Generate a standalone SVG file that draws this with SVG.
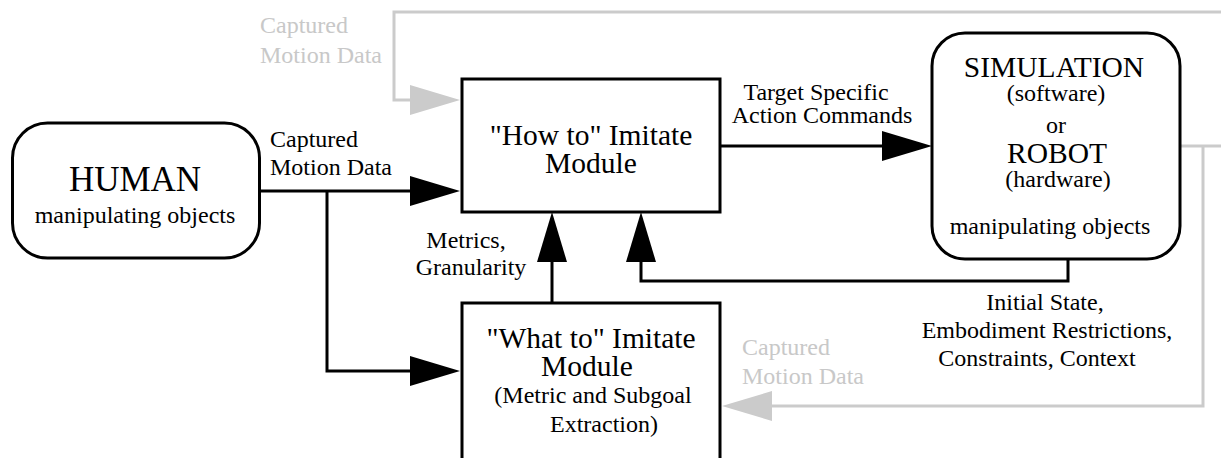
<svg xmlns="http://www.w3.org/2000/svg" width="1221" height="458" viewBox="0 0 1221 458">
<style>
  .box { fill: #ffffff; stroke: #000000; stroke-width: 3; }
  .ln { fill: none; stroke: #000000; stroke-width: 3; }
  .gl { fill: none; stroke: #cbcbcb; stroke-width: 3; }
  text { font-family: "Liberation Serif", "Times New Roman", serif; fill: #000000; }
  .big { font-size: 35px; text-anchor: middle; }
  .mid { font-size: 29.5px; text-anchor: middle; }
  .sm { font-size: 24px; text-anchor: middle; }
  .lbl { font-size: 24px; }
  .gray { fill: #c8c8c8; }
</style>
<defs>
  <marker id="ah" markerUnits="userSpaceOnUse" markerWidth="50" markerHeight="30" refX="0" refY="15" orient="auto" viewBox="0 0 50 30">
    <path d="M0,0 L50,15 L0,30 Z" fill="#000000"/>
  </marker>
  <marker id="ahg" markerUnits="userSpaceOnUse" markerWidth="50" markerHeight="30" refX="0" refY="15" orient="auto" viewBox="0 0 50 30">
    <path d="M0,0 L50,15 L0,30 Z" fill="#cbcbcb"/>
  </marker>
</defs>

<g id="connectors">
  <path class="gl" d="M1221,12 H394 V100 H410" marker-end="url(#ahg)"/>
  <path class="gl" d="M1180,146 H1221 M1203,146 V406 H772" marker-end="url(#ahg)"/>
  <path class="ln" d="M260,191 H410" marker-end="url(#ah)"/>
  <path class="ln" d="M327,191 V371 H410" marker-end="url(#ah)"/>
  <path class="ln" d="M720,146 H882" marker-end="url(#ah)"/>
  <path class="ln" d="M552,303 V262" marker-end="url(#ah)"/>
  <path class="ln" d="M1068,259 V281 H641 V262" marker-end="url(#ah)"/>
</g>

<g id="labels">
  <text class="lbl gray" x="260" y="33">Captured</text>
  <text class="lbl gray" x="260" y="63">Motion Data</text>
  <text class="lbl" x="270" y="147">Captured</text>
  <text class="lbl" x="270" y="175">Motion Data</text>
  <text class="sm" x="816" y="100">Target Specific</text>
  <text class="sm" x="822" y="123">Action Commands</text>
  <text class="sm" x="466" y="248">Metrics,</text>
  <text class="sm" x="471" y="275">Granularity</text>
  <text class="sm" x="1045" y="310">Initial State,</text>
  <text class="sm" x="1047" y="338">Embodiment Restrictions,</text>
  <text class="sm" x="1037" y="366">Constraints, Context</text>
  <text class="lbl gray" x="742" y="355">Captured</text>
  <text class="lbl gray" x="742" y="384">Motion Data</text>
</g>

<g id="human">
  <rect class="box" x="12.5" y="123" width="247" height="135" rx="35" ry="35"/>
  <text class="big" x="135" y="191">HUMAN</text>
  <text class="sm" x="135" y="223">manipulating objects</text>
</g>

<g id="how">
  <rect class="box" x="462" y="79" width="258" height="133"/>
  <text class="mid" x="591" y="145">"How to" Imitate</text>
  <text class="mid" x="591" y="173">Module</text>
</g>

<g id="what">
  <rect class="box" x="462" y="303" width="258" height="180"/>
  <text class="mid" x="591" y="348">"What to" Imitate</text>
  <text class="mid" x="587" y="376">Module</text>
  <text class="sm" x="593" y="403">(Metric and Subgoal</text>
  <text class="sm" x="604" y="432">Extraction)</text>
</g>

<g id="sim">
  <rect class="box" x="932" y="33" width="248" height="226" rx="33" ry="33"/>
  <text class="mid" x="1054" y="77">SIMULATION</text>
  <text class="sm" x="1056" y="101">(software)</text>
  <text class="sm" x="1056" y="133">or</text>
  <text class="mid" x="1057" y="163">ROBOT</text>
  <text class="sm" x="1058" y="187">(hardware)</text>
  <text class="sm" x="1050" y="234">manipulating objects</text>
</g>
</svg>
